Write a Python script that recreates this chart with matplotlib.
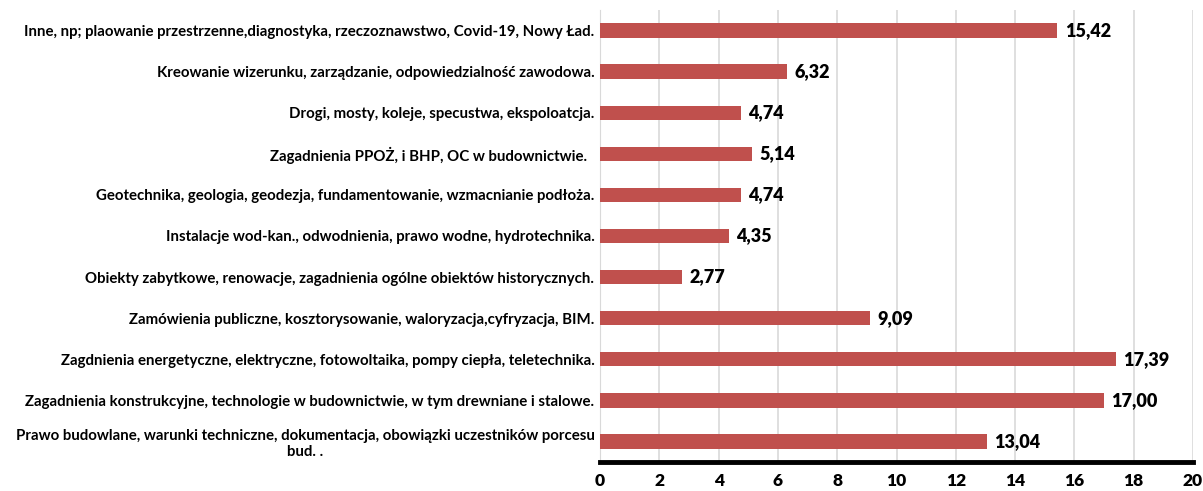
import matplotlib
matplotlib.use("Agg")
import matplotlib.pyplot as plt
import numpy as np

categories = [
    "Prawo budowlane, warunki techniczne, dokumentacja, obowiązki uczestników porcesu\nbud. .",
    "Zagadnienia konstrukcyjne, technologie w budownictwie, w tym drewniane i stalowe.",
    "Zagdnienia energetyczne, elektryczne, fotowoltaika, pompy ciepła, teletechnika.",
    "Zamówienia publiczne, kosztorysowanie, waloryzacja,cyfryzacja, BIM.",
    "Obiekty zabytkowe, renowacje, zagadnienia ogólne obiektów historycznych.",
    "Instalacje wod-kan., odwodnienia, prawo wodne, hydrotechnika.",
    "Geotechnika, geologia, geodezja, fundamentowanie, wzmacnianie podłoża.",
    "Zagadnienia PPOŻ, i BHP, OC w budownictwie.  ",
    "Drogi, mosty, koleje, specustwa, ekspoloatcja.",
    "Kreowanie wizerunku, zarządzanie, odpowiedzialność zawodowa.",
    "Inne, np; plaowanie przestrzenne,diagnostyka, rzeczoznawstwo, Covid-19, Nowy Ład.",
]
values = [13.04, 17.00, 17.39, 9.09, 2.77, 4.35, 4.74, 5.14, 4.74, 6.32, 15.42]
x_ticks = [0, 2, 4, 6, 8, 10, 12, 14, 16, 18, 20]

plt.rcParams["font.family"] = ["Lato", "DejaVu Sans"]

fig = plt.figure(figsize=(12.03, 4.91), dpi=100)
ax = fig.add_axes([600 / 1203, 1 - 462 / 491, 593 / 1203, 452 / 491])

y = np.arange(len(categories))
ax.barh(y, values, height=0.35, color="#C0504D", zorder=3)

for yi, v in zip(y, values):
    ax.text(v + 0.25, yi, f"{v:.2f}".replace(".", ","), va="center", ha="left",
            fontsize=13, fontweight="heavy", color="black")

ax.set_xlim(0, 20)
ax.set_ylim(-0.5, len(categories) - 0.5)
ax.set_xticks(x_ticks)
ax.set_xticklabels([str(t) for t in x_ticks], fontsize=12.5, fontweight="heavy")
ax.set_yticks(y)
ax.set_yticklabels(categories, fontsize=10.8, fontweight="bold")
for lbl in ax.get_yticklabels():
    lbl.set_multialignment("center")
ax.tick_params(axis="both", length=0)
ax.tick_params(axis="y", pad=4)
ax.tick_params(axis="x", pad=8)

ax.grid(axis="x", color="#D9D9D9", linewidth=1.2, zorder=0)
for side in ["top", "right"]:
    ax.spines[side].set_visible(False)
ax.spines["left"].set_color("#D9D9D9")
ax.spines["bottom"].set_color("black")
ax.spines["bottom"].set_linewidth(3.5)
ax.spines["bottom"].set_zorder(4)

fig.savefig("out.png", dpi=100)
